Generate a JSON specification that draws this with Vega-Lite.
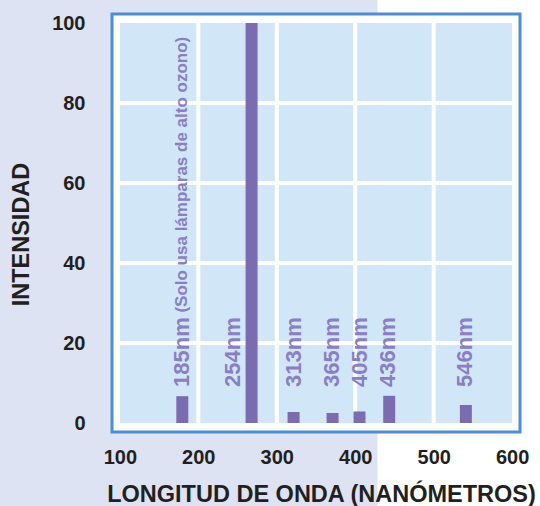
{
  "$schema": "https://vega.github.io/schema/vega-lite/v6.json",
  "autosize": {"type": "none"},
  "width": 418,
  "height": 418,
  "padding": {"left": 107, "top": 14, "right": 15, "bottom": 74},
  "background": "#ffffff",
  "config": {"view": {"stroke": null, "fill": null}, "font": "Liberation Sans"},
  "datasets": {
    "barras": [
      {"onda": "185nm", "x": 179.6, "intensidad": 6.7},
      {"onda": "254nm", "x": 267.9, "intensidad": 100},
      {"onda": "313nm", "x": 321.4, "intensidad": 2.75},
      {"onda": "365nm", "x": 371.1, "intensidad": 2.5},
      {"onda": "405nm", "x": 405.4, "intensidad": 2.9},
      {"onda": "436nm", "x": 443.3, "intensidad": 6.8},
      {"onda": "546nm", "x": 541.0, "intensidad": 4.5}
    ],
    "etiquetas": [
      {"texto": "185nm", "x": 178.9, "y": 9, "parte": "onda"},
      {"texto": "(Solo usa lámparas de alto ozono)", "x": 179.5, "y": 27.6, "parte": "nota"},
      {"texto": "254nm", "x": 244.3, "y": 9, "parte": "onda"},
      {"texto": "313nm", "x": 321.4, "y": 9, "parte": "onda"},
      {"texto": "365nm", "x": 371.0, "y": 9, "parte": "onda"},
      {"texto": "405nm", "x": 406.0, "y": 9, "parte": "onda"},
      {"texto": "436nm", "x": 442.0, "y": 9, "parte": "onda"},
      {"texto": "546nm", "x": 540.3, "y": 9, "parte": "onda"}
    ],
    "rejilla_x": [{"v": 200}, {"v": 300}, {"v": 400}, {"v": 500}],
    "rejilla_y": [{"v": 20}, {"v": 40}, {"v": 60}, {"v": 80}]
  },
  "layer": [
    {
      "data": {"values": [{}]},
      "mark": {"type": "rect", "fill": "#dde3f2"},
      "encoding": {
        "x": {"datum": -60, "type": "quantitative",
          "scale": {"domain": [90, 610], "nice": false, "zero": false},
          "axis": {"values": [100, 200, 300, 400, 500, 600], "ticks": false, "domain": false, "grid": false,
            "labelFontSize": 20, "labelFontWeight": "bold", "labelColor": "#231f20", "labelPadding": 15,
            "labelBaseline": "top", "labelFlush": false, "zindex": 1,
            "title": "LONGITUD DE ONDA (NANÓMETROS)", "titleFontSize": 23.5, "titleFontWeight": "bold",
            "titleColor": "#231f20", "titleX": 214, "titleY": 69, "titleBaseline": "alphabetic", "titleAlign": "center"}},
        "x2": {"datum": 428.4},
        "y": {"datum": -30, "type": "quantitative",
          "scale": {"domain": [-2.25, 102.25], "nice": false, "zero": false},
          "axis": {"values": [0, 20, 40, 60, 80, 100], "ticks": false, "domain": false, "grid": false,
            "labelFontSize": 20, "labelFontWeight": "bold", "labelColor": "#231f20", "labelPadding": 22,
            "labelBaseline": "middle", "zindex": 1,
            "title": "INTENSIDAD", "titleFontSize": 23.5, "titleFontWeight": "bold", "titleColor": "#231f20",
            "titleX": -86, "titleY": 220, "titleAngle": 270, "titleBaseline": "middle", "titleAlign": "center"}},
        "y2": {"datum": 115}
      }
    },
    {
      "data": {"values": [{}]},
      "mark": {"type": "rect", "fill": "#ffffff", "stroke": "#4a8fd6", "strokeWidth": 3},
      "encoding": {
        "x": {"datum": 90, "type": "quantitative"},
        "x2": {"datum": 610},
        "y": {"datum": -2.25, "type": "quantitative"},
        "y2": {"datum": 102.25}
      }
    },
    {
      "data": {"values": [{}]},
      "mark": {"type": "rect", "fill": "#d1e7f7"},
      "encoding": {
        "x": {"datum": 100, "type": "quantitative"},
        "x2": {"datum": 600},
        "y": {"datum": 0, "type": "quantitative"},
        "y2": {"datum": 100}
      }
    },
    {
      "data": {"name": "rejilla_x"},
      "mark": {"type": "rule", "stroke": "#ffffff", "strokeWidth": 4},
      "encoding": {
        "x": {"field": "v", "type": "quantitative"},
        "y": {"datum": 0, "type": "quantitative"},
        "y2": {"datum": 100}
      }
    },
    {
      "data": {"name": "rejilla_y"},
      "mark": {"type": "rule", "stroke": "#ffffff", "strokeWidth": 4},
      "encoding": {
        "y": {"field": "v", "type": "quantitative"},
        "x": {"datum": 100, "type": "quantitative"},
        "x2": {"datum": 600}
      }
    },
    {
      "data": {"name": "barras"},
      "mark": {"type": "bar", "color": "#7b6bb1", "size": 12},
      "encoding": {
        "x": {"field": "x", "type": "quantitative"},
        "y": {"field": "intensidad", "type": "quantitative"},
        "y2": {"datum": 0}
      }
    },
    {
      "data": {"name": "etiquetas"},
      "transform": [{"filter": "datum.parte === 'onda'"}],
      "mark": {"type": "text", "angle": 270, "align": "left", "baseline": "middle", "fontSize": 22,
        "fontWeight": "bold", "color": "#8a7ec5"},
      "encoding": {
        "x": {"field": "x", "type": "quantitative"},
        "y": {"field": "y", "type": "quantitative"},
        "text": {"field": "texto"}
      }
    },
    {
      "data": {"name": "etiquetas"},
      "transform": [{"filter": "datum.parte === 'nota'"}],
      "mark": {"type": "text", "angle": 270, "align": "left", "baseline": "middle", "fontSize": 17,
        "fontWeight": "bold", "color": "#8a7ec5"},
      "encoding": {
        "x": {"field": "x", "type": "quantitative"},
        "y": {"field": "y", "type": "quantitative"},
        "text": {"field": "texto"}
      }
    }
  ]
}
